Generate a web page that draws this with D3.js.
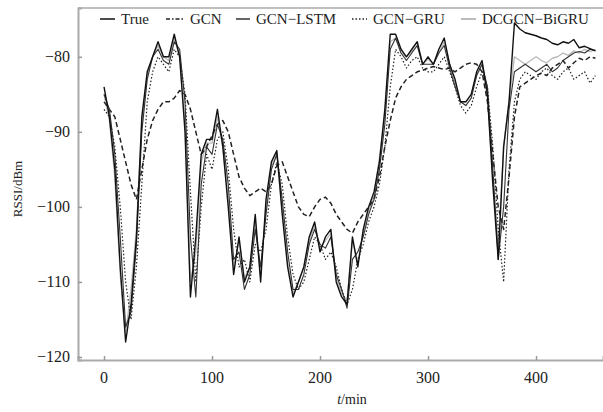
<!DOCTYPE html>
<html lang="en">
  <head>
    <meta charset="UTF-8" />
    <title>RSSI prediction</title>
    <script src="https://cdn.jsdelivr.net/npm/d3@7"></script>
    <style>
      body { margin: 0; background: #fff; }
      text { font-family: "Liberation Serif", "DejaVu Serif", serif; }
    </style>
  </head>
  <body>
    <div id="chart"></div>
    <script>
      // time axis, one sample every 5 min
      const minutes = d3.range(0, 456, 5);

      const trueRssi = [
        -84, -88, -95, -108, -118, -113, -104, -88, -82, -80, -78, -80, -80, -77, -80, -90,
        -112, -104, -93, -91, -91, -87, -92, -100, -109, -104, -110, -108, -101, -110, -99, -94,
        -92.5, -101, -108, -112, -110, -108, -104, -102, -106, -104, -103, -110, -112, -113, -104, -108,
        -103, -100, -98, -94, -87, -77, -77, -79, -80, -79, -78, -81, -80, -81, -79, -77.5,
        -81, -83, -86, -86, -85, -82, -80.5, -85, -97, -107, -92, -86, -75.5, -76.3, -76.8, -77,
        -77.2, -77.5, -77.7, -78.2, -78.4, -78, -78.2, -77.7, -78.8, -78.6, -78.9, -79.2
      ];
      const gcn = [
        -86, -87, -88, -91, -94, -97, -99, -95, -91, -88.5, -87, -86, -86, -85.5, -84.5, -85,
        -87, -90, -93, -92, -90.5, -89, -88.5, -90, -93, -96, -97.5, -98.5, -98, -97.5, -98, -97,
        -94.5, -94, -96, -98, -100, -101, -101.3, -100, -99, -98.7, -99.5, -101, -102, -103, -103.5, -102,
        -101, -100, -99, -96, -92, -88.5, -85.5, -84, -83, -82.5, -82, -81.8, -81.5, -81.3, -81.5, -81.7,
        -81.5, -82, -81.5, -81, -80.8, -81, -82, -86, -93, -100, -103, -96, -88, -84, -83.5, -83,
        -82.5, -82.2, -82.5, -81.5, -81, -80.5, -81.5, -80.8, -80.2, -80.5, -80, -80.2
      ];
      const gcnLstm = [
        -85, -87, -93, -104, -116, -114, -105, -90, -83, -80, -79, -80.5, -81, -78, -79, -86,
        -104, -112, -97, -92, -93, -89, -91, -97, -107, -106, -111, -109, -103, -108, -101, -95,
        -93, -99, -106, -111, -111, -109, -105, -103, -105, -105.5, -104, -109, -111, -113.5, -107, -106,
        -104, -101, -99, -95, -89, -79, -77.5, -79.5, -80.5, -79.5, -78.5, -81, -81, -81, -79.5, -78.5,
        -81.5, -84, -86, -86.5, -85.5, -82.5, -81, -84, -95, -107, -100, -87, -82, -81.5, -81, -81.5,
        -82, -81.5, -81, -82, -81.5, -80.5, -80, -79.5, -79.3, -79.5, -79, -79.2
      ];
      const gcnGru = [
        -87, -88, -92, -100, -110, -115, -108, -97, -86, -82, -80, -81, -82, -79, -80, -85,
        -98, -110, -100, -93, -95, -91, -90, -95, -103, -108, -107, -110, -105, -106, -103, -97,
        -94, -97, -104, -109, -111, -110, -107, -104, -105, -107, -106, -108, -111, -113, -111, -107,
        -105, -102, -100, -97, -92, -84, -79, -80, -81.5, -80.5, -80, -81.5, -82, -82, -81, -80,
        -82, -84, -86.5, -87.5, -86.5, -84, -82, -84, -92, -103, -110, -95, -86, -83, -82, -82.5,
        -83, -82, -81.5, -82.5, -83, -82, -81.5, -83, -82.5, -82, -83.5, -82.5
      ];
      const dcgcnBiGru = [
        -85, -88.5, -96, -109, -117, -111, -103, -89, -82.5, -80, -78.5, -80, -80.5, -77.5, -80, -89,
        -110, -106, -94, -91.5, -91.5, -88, -92, -99, -108, -104.5, -109.5, -108, -102, -109, -100, -94.5,
        -93, -100.5, -107.5, -111.5, -110, -108, -104.5, -102.5, -105.5, -104.5, -103.5, -109.5, -111.5, -112.5, -104.5, -107.5,
        -103.5, -100.5, -98.5, -93.5, -88, -78, -77.5, -79.5, -80, -79.3, -78.5, -81, -80.3, -81, -79.5, -78,
        -81, -83.5, -86, -86, -85, -82.5, -81, -85.5, -96, -105, -92, -86, -80, -80.5, -81, -80.5,
        -80, -80.5, -80.8, -80.2, -80, -79.5, -79.8, -79.2, -79.5, -79, -79.3, -79
      ];

      const seriesNames = ["True", "GCN", "GCN\u2212LSTM", "GCN\u2212GRU", "DCGCN\u2212BiGRU"];
      const xTicks = [0, 100, 200, 300, 400];
      const yTicks = [-80, -90, -100, -110, -120];

      const styles = [
        { color: "#111", width: 1.4, dash: null },
        { color: "#222", width: 1.5, dash: "5,3" },
        { color: "#333", width: 1.1, dash: null },
        { color: "#222", width: 1.2, dash: "1.5,2" },
        { color: "#bbb", width: 1.4, dash: null },
      ];
      const values = [trueRssi, gcn, gcnLstm, gcnGru, dcgcnBiGru];

      const W = 603, H = 412;
      const plot = { left: 78, right: 603, top: 8, bottom: 360 };

      const svg = d3.select("#chart").append("svg")
        .attr("width", W).attr("height", H);

      const x = d3.scaleLinear().domain([-24.1, 462]).range([plot.left, plot.right]);
      const y = d3.scaleLinear().domain([-120.4, -73.5]).range([plot.bottom, plot.top]);

      // frame
      svg.append("line")
        .attr("x1", plot.left).attr("x2", plot.right)
        .attr("y1", plot.top).attr("y2", plot.top)
        .attr("stroke", "#aaa").attr("stroke-width", 1.5);

      const xAxis = svg.append("g")
        .attr("transform", `translate(0,${plot.bottom})`)
        .call(d3.axisTop(x).tickValues(xTicks).tickSize(4).tickFormat(""));
      xAxis.selectAll("path, line").attr("stroke", "#999").attr("stroke-width", 1.5);
      xAxis.select(".domain").attr("stroke", "#aaa").attr("stroke-width", 2);

      svg.append("g").selectAll("text").data(xTicks).join("text")
        .attr("x", (d) => x(d)).attr("y", plot.bottom + 23)
        .attr("text-anchor", "middle").attr("font-size", 16).attr("fill", "#222")
        .text((d) => d);

      const yAxis = svg.append("g")
        .attr("transform", `translate(${plot.left},0)`)
        .call(d3.axisRight(y).tickValues(yTicks).tickSize(4).tickFormat(""));
      yAxis.selectAll("path, line").attr("stroke", "#999").attr("stroke-width", 1.5);
      yAxis.select(".domain").attr("stroke", "#aaa").attr("stroke-width", 2);

      svg.append("g").selectAll("text").data(yTicks).join("text")
        .attr("x", plot.left - 8).attr("y", (d) => y(d) + 5)
        .attr("text-anchor", "end").attr("font-size", 16).attr("fill", "#222")
        .text((d) => "\u2212" + Math.abs(d));

      // axis titles
      svg.append("text")
        .attr("transform", `translate(22,${(plot.top + plot.bottom) / 2 + 5}) rotate(-90)`)
        .attr("text-anchor", "middle").attr("font-size", 13).attr("fill", "#222")
        .text("RSSI/dBm");

      const xt = svg.append("text")
        .attr("x", 352).attr("y", 404)
        .attr("text-anchor", "middle").attr("font-size", 14).attr("fill", "#222");
      xt.append("tspan").attr("font-style", "italic").text("t");
      xt.append("tspan").text("/min");

      // lines, gray one first so the black ones sit on top
      const line = (vals) => d3.line()
        .x((d, i) => x(minutes[i]))
        .y((d) => y(d))(vals);

      const order = [4, 1, 3, 2, 0];
      order.forEach((k) => {
        svg.append("path")
          .attr("d", line(values[k]))
          .attr("fill", "none")
          .attr("stroke", styles[k].color)
          .attr("stroke-width", styles[k].width)
          .attr("stroke-dasharray", styles[k].dash)
          .attr("stroke-linejoin", "round");
      });

      // legend
      const legendX = [100, 166, 236, 352, 461];
      const legendSym = [15, 18, 14, 15, 15];
      const legend = svg.append("g");
      seriesNames.forEach((name, k) => {
        legend.append("line")
          .attr("x1", legendX[k]).attr("x2", legendX[k] + legendSym[k])
          .attr("y1", 19).attr("y2", 19)
          .attr("stroke", styles[k].color)
          .attr("stroke-width", k === 4 ? 2 : 1.5)
          .attr("stroke-dasharray", k === 1 ? "4,2,1.5,2" : styles[k].dash);
        legend.append("text")
          .attr("x", legendX[k] + legendSym[k] + 6).attr("y", 24)
          .attr("font-size", 15).attr("fill", "#222")
          .text(name);
      });
    </script>
  </body>
</html>
